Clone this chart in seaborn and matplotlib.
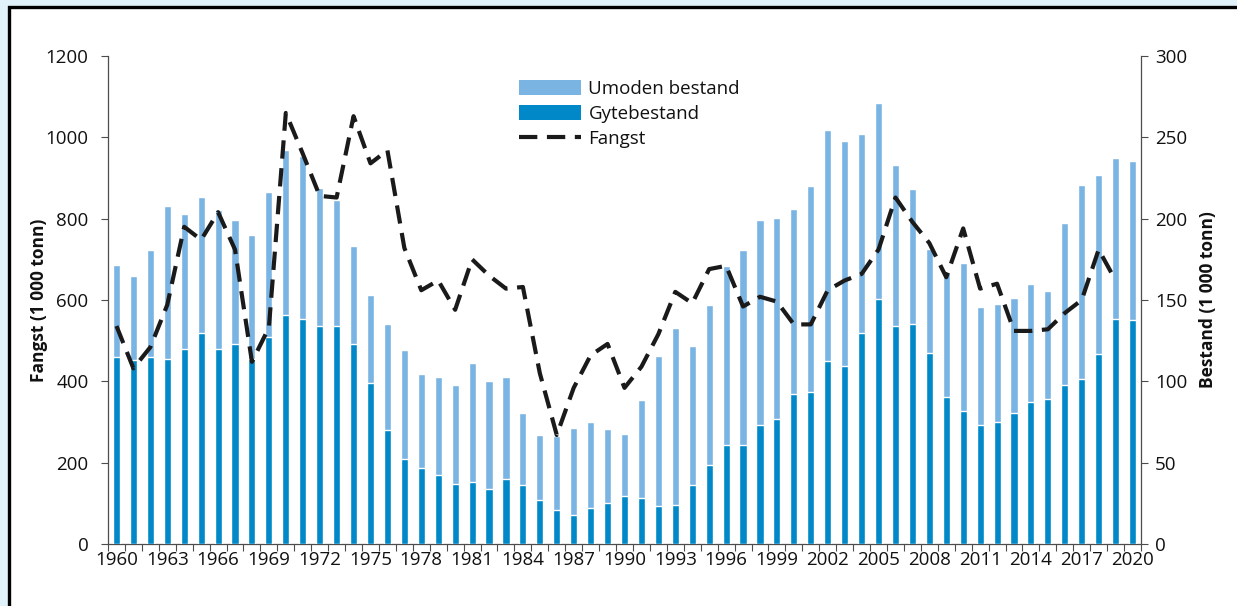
import numpy as np
import pandas as pd
import matplotlib
matplotlib.use("Agg")
import matplotlib.pyplot as plt
from matplotlib.patches import Rectangle, Patch
from matplotlib.lines import Line2D
import seaborn as sns

# ---------------- data ----------------
years = list(range(1960, 2021))
total_stock = [685, 660, 722, 832, 811, 853, 821, 796, 759, 866,
               969, 953, 876, 846, 734, 612, 542, 478, 417, 410,
               391, 444, 400, 410, 321, 269, 266, 285, 301, 283,
               271, 353, 463, 532, 486, 588, 684, 722, 797, 801,
               823, 881, 1019, 991, 1007, 1085, 931, 873, 726, 666,
               691, 582, 591, 606, 639, 622, 790, 882, 907, 950,
               943]
spawning_stock = [459, 453, 459, 454, 479, 518, 479, 492, 455, 509,
                  564, 553, 535, 535, 492, 396, 281, 209, 188, 170,
                  148, 153, 135, 161, 146, 109, 83, 71, 88, 102,
                  118, 114, 94, 97, 146, 195, 244, 244, 293, 308,
                  368, 374, 449, 438, 518, 602, 535, 542, 469, 362,
                  327, 293, 300, 322, 349, 357, 392, 406, 466, 554,
                  550]
catch_years = list(range(1960, 2020))
catch = [134, 108, 121, 147, 195, 187, 204, 181, 112, 133,
         265, 240, 214, 213, 263, 234, 242, 182, 156, 162,
         144, 175, 165, 157, 158, 105, 67, 96, 116, 123,
         96, 109, 129, 155, 148, 169, 171, 146, 152, 149,
         135, 135, 156, 162, 166, 181, 213, 198, 185, 164,
         194, 157, 160, 131, 131, 132, 142, 150, 181, 162]
label_years = list(range(1960, 2021, 3))
left_ticks = [0, 200, 400, 600, 800, 1000, 1200]
right_ticks = [0, 50, 100, 150, 200, 250, 300]

legend_labels = ["Umoden bestand", "Gytebestand", "Fangst"]
ylabel_left = "Fangst (1 000 tonn)"
ylabel_right = "Bestand (1 000 tonn)"

# ---------------- style ----------------
sns.set_style("ticks")
plt.rcParams['font.family'] = ['Open Sans', 'DejaVu Sans']

LIGHT = "#7AB4E3"
DARK = "#0088C8"
SPINE = "#4d4d4d"
TXT = "#111111"
FS = 13.5

stock_df = pd.DataFrame({"year": years, "total": total_stock, "gyte": spawning_stock})
catch_df = pd.DataFrame({"year": catch_years, "catch": catch})

W, H = 1237, 606
fig = plt.figure(figsize=(W / 100, H / 100), dpi=100)
fig.patch.set_facecolor("#E1F2FA")
frame = Rectangle((8.5 / W, -0.2), 1.2, 1.2 - 6.5 / H, transform=fig.transFigure,
                  facecolor="white", edgecolor="black", lw=2.4, zorder=-10)
fig.add_artist(frame)

ax = fig.add_axes([108 / W, 62 / H, (1141 - 108) / W, (544 - 56) / H])
ax.set_facecolor("white")

sns.barplot(data=stock_df, x="year", y="total", native_scale=True, width=0.42,
            color=LIGHT, saturation=1, errorbar=None, ax=ax, zorder=2)
sns.barplot(data=stock_df, x="year", y="gyte", native_scale=True, width=0.42,
            color=DARK, saturation=1, errorbar=None, ax=ax, zorder=3)

ax.set_xlim(1959.5, 2020.5)
ax.set_ylim(0, 1200)
ax.set_yticks(left_ticks)
ax.set_xticks(np.arange(1959.5, 2021.0, 1.0))
ax.set_xticklabels([])
ax.set_xticks(label_years, minor=True)
ax.set_xticklabels([str(y) for y in label_years], minor=True)
ax.tick_params(axis="x", which="major", length=5, width=0.8, color=SPINE)
ax.tick_params(axis="x", which="minor", length=0, pad=5, labelsize=FS, labelcolor=TXT)
ax.tick_params(axis="y", length=5, width=0.8, color=SPINE, labelsize=FS, pad=9,
               labelcolor=TXT)
ax.set_xlabel("")
ax.set_ylabel(ylabel_left, fontsize=12.5, fontweight="bold", color=TXT)
ax.yaxis.set_label_coords(-0.058, 0.5)
for s in ["top", "right"]:
    ax.spines[s].set_visible(False)
for s in ["left", "bottom"]:
    ax.spines[s].set_color(SPINE)
    ax.spines[s].set_linewidth(0.9)

ax2 = ax.twinx()
sns.lineplot(data=catch_df, x="year", y="catch", ax=ax2, color="#1a1a1a",
             lw=3.0, linestyle="--")
ln = ax2.lines[0]
ln.set_dashes((4.4, 2.3))
ln.set_dash_capstyle("butt")
ax2.set_ylim(0, 300)
ax2.set_yticks(right_ticks)
ax2.set_xlim(1959.5, 2020.5)
ax2.tick_params(axis="y", length=5, width=0.8, color=SPINE, labelsize=FS, pad=5,
                labelcolor=TXT)
ax2.set_xlabel("")
ax2.set_ylabel(ylabel_right, fontsize=12.5, fontweight="bold", color=TXT)
ax2.yaxis.set_label_coords(1.056, 0.5)
for s in ["top", "left", "bottom"]:
    ax2.spines[s].set_visible(False)
ax2.spines["right"].set_color(SPINE)
ax2.spines["right"].set_linewidth(0.9)

handles = [Patch(facecolor=LIGHT, edgecolor="none"),
           Patch(facecolor=DARK, edgecolor="none"),
           Line2D([], [], color="#1a1a1a", lw=3.0, dashes=(4.4, 2.3), dash_capstyle="butt")]
leg = ax2.legend(handles, legend_labels, loc="upper left",
                 bbox_to_anchor=(519 / W, 1 - 80 / H), bbox_transform=fig.transFigure,
                 frameon=False, fontsize=FS, handlelength=3.3, handleheight=0.85,
                 handletextpad=0.4, labelspacing=0.38, borderpad=0, borderaxespad=0)
for t in leg.get_texts():
    t.set_color(TXT)

fig.savefig("out.png", dpi=100, facecolor=fig.get_facecolor())
